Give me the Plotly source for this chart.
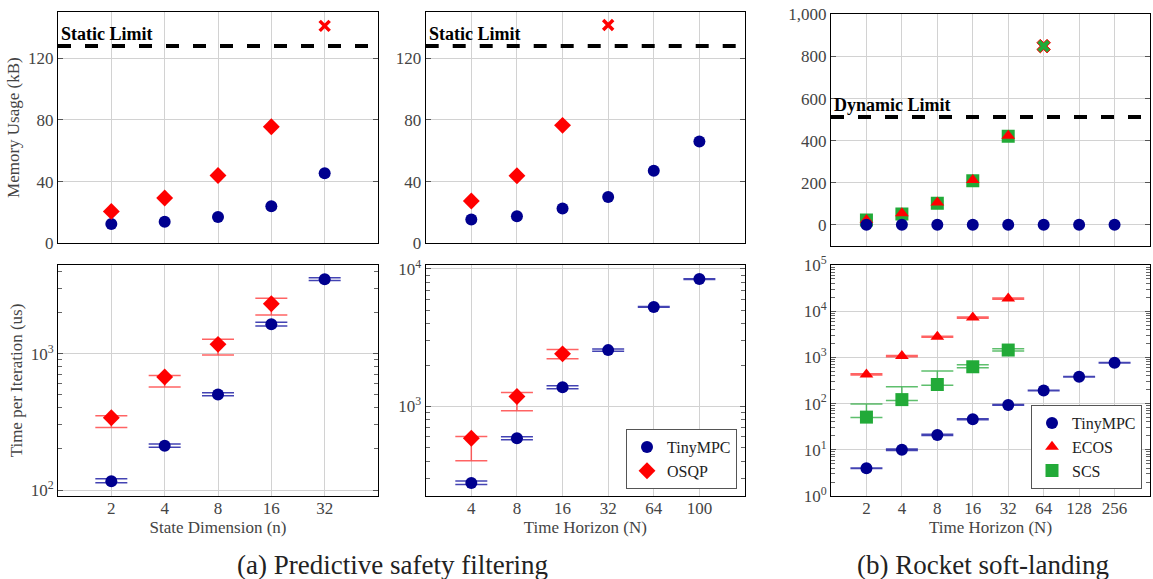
import plotly.graph_objects as go
from plotly.subplots import make_subplots

# ---------------- data ----------------
psf_n_labels = ["2", "4", "8", "16", "32"]
psf_n_tiny_mem = [12.5, 14.0, 17.0, 24.0, 45.5]
psf_n_osqp_mem = [20.7, 29.4, 44.0, 75.6]
psf_n_osqp_fail_label = "32"
psf_n_osqp_fail_mem = 141

psf_N_labels = ["4", "8", "16", "32", "64", "100"]
psf_N_tiny_mem = [15.5, 17.5, 22.5, 30.0, 47.0, 66.0]
psf_N_osqp_mem = [27.4, 43.8, 76.5]
psf_N_osqp_fail_label = "32"
psf_N_osqp_fail_mem = 141.5

rocket_labels = ["2", "4", "8", "16", "32", "64", "128", "256"]
rocket_tiny_mem = [1, 1, 1, 1, 1, 1, 1, 1]
rocket_ecos_mem = [24, 56, 106, 213, 424]
rocket_scs_mem = [24, 52, 103, 210, 421]
rocket_fail_label = "64"
rocket_fail_mem = 849

static_limit = 128
dynamic_limit = 512

psf_n_tiny_t = [116, 211, 503, 1643, 3516]
psf_n_tiny_t_hi = [121, 218, 518, 1700, 3610]
psf_n_tiny_t_lo = [113, 206, 492, 1600, 3440]
psf_n_osqp_t = [339, 674, 1172, 2327]
psf_n_osqp_t_hi = [351, 693, 1275, 2548]
psf_n_osqp_t_lo = [288, 571, 978, 1923]

psf_N_tiny_t = [278, 587, 1378, 2570, 5297, 8450]
psf_N_tiny_t_hi = [287, 603, 1415, 2620, 5330, 8500]
psf_N_tiny_t_lo = [271, 574, 1345, 2520, 5270, 8400]
psf_N_osqp_t = [587, 1183, 2415]
psf_N_osqp_t_hi = [604, 1266, 2600]
psf_N_osqp_t_lo = [403, 931, 2222]

rocket_tiny_t = [4.0, 10.0, 20.9, 45.6, 93.6, 192, 380, 766]
rocket_tiny_t_hi = [4.05, 10.4, 21.6, 46.8, 95.5, 194, 384, 772]
rocket_tiny_t_lo = [3.95, 9.6, 20.3, 44.5, 91.8, 190, 376, 760]
rocket_ecos_t = [427, 1067, 2800, 7270, 18800]
rocket_ecos_t_hi = [440, 1100, 2880, 7480, 19400]
rocket_ecos_t_lo = [415, 1035, 2720, 7060, 18200]
rocket_scs_t = [51, 122, 259, 627, 1443]
rocket_scs_t_hi = [98, 231, 505, 694, 1545]
rocket_scs_t_lo = [50, 116, 250, 597, 1371]

captions = ["(a) Predictive safety filtering", "(b) Rocket soft-landing"]

# ---------------- style ----------------
BLUE = "#00008F"
RED = "#FF0000"
GREEN = "#22AA38"
BLUE_E = "rgba(20,20,160,0.8)"
RED_E = "rgba(255,60,60,0.8)"
GREEN_E = "rgba(40,170,60,0.75)"
FONT = "'Liberation Serif', 'DejaVu Serif', serif"
GRID = "#d2d2d2"
TICKC = "#444444"
S_CIRC, S_DIAM, S_TRI, S_SQ = 12, 13, 12, 13

fig = make_subplots(rows=2, cols=3)


def pos(labels, sel):
    return [labels.index(s) + 1 for s in sel]


def errs(v, hi, lo):
    return [h - x for x, h in zip(v, hi)], [x - l for x, l in zip(v, lo)]


def add_pt(row, col, x, y, color, symbol, size, name, legend=None, show=False,
           err=None, ecolor=None, line=None):
    kw = {}
    if err is not None:
        kw["error_y"] = dict(type="data", symmetric=False, array=err[0], arrayminus=err[1],
                             color=ecolor, thickness=1.5, width=16)
    m = dict(color=color, symbol=symbol, size=size, line=line or dict(width=0))
    tr = go.Scatter(x=x, y=y, mode="markers", marker=m, name=name, showlegend=show, **kw)
    if legend:
        tr.legend = legend
    fig.add_trace(tr, row=row, col=col)


# ---- top-left: memory vs state dimension
xl = list(range(1, len(psf_n_labels) + 1))
add_pt(1, 1, xl[:len(psf_n_tiny_mem)], psf_n_tiny_mem, BLUE, "circle", S_CIRC, "TinyMPC")
add_pt(1, 1, xl[:len(psf_n_osqp_mem)], psf_n_osqp_mem, RED, "diamond", S_DIAM, "OSQP")
add_pt(1, 1, pos(psf_n_labels, [psf_n_osqp_fail_label]), [psf_n_osqp_fail_mem], RED, "x-thin", 10,
       "OSQP fail", line=dict(color=RED, width=3.5))
fig.add_trace(go.Scatter(x=[0, len(psf_n_labels) + 1], y=[static_limit] * 2, mode="lines",
                         line=dict(color="black", width=4, dash="13px,14px"), showlegend=False),
              row=1, col=1)

# ---- top-middle: memory vs horizon
xm = list(range(1, len(psf_N_labels) + 1))
add_pt(1, 2, xm[:len(psf_N_tiny_mem)], psf_N_tiny_mem, BLUE, "circle", S_CIRC, "TinyMPC")
add_pt(1, 2, xm[:len(psf_N_osqp_mem)], psf_N_osqp_mem, RED, "diamond", S_DIAM, "OSQP")
add_pt(1, 2, pos(psf_N_labels, [psf_N_osqp_fail_label]), [psf_N_osqp_fail_mem], RED, "x-thin", 10,
       "OSQP fail", line=dict(color=RED, width=3.5))
fig.add_trace(go.Scatter(x=[0, len(psf_N_labels) + 1], y=[static_limit] * 2, mode="lines",
                         line=dict(color="black", width=4, dash="13px,14px"), showlegend=False),
              row=1, col=2)

# ---- top-right: rocket memory
xr = list(range(1, len(rocket_labels) + 1))
fig.add_trace(go.Scatter(x=[0, len(rocket_labels) + 1], y=[dynamic_limit] * 2, mode="lines",
                         line=dict(color="black", width=4, dash="13px,14px"), showlegend=False),
              row=1, col=3)
add_pt(1, 3, xr[:len(rocket_scs_mem)], rocket_scs_mem, GREEN, "square", S_SQ, "SCS")
add_pt(1, 3, xr[:len(rocket_ecos_mem)], rocket_ecos_mem, RED, "triangle-up", S_TRI, "ECOS")
add_pt(1, 3, xr[:len(rocket_tiny_mem)], rocket_tiny_mem, BLUE, "circle", S_CIRC, "TinyMPC")
add_pt(1, 3, pos(rocket_labels, [rocket_fail_label]), [rocket_fail_mem], GREEN, "x", 12,
       "fail", line=dict(color=RED, width=1))

# ---- bottom-left: time vs state dimension
add_pt(2, 1, xl[:len(psf_n_tiny_t)], psf_n_tiny_t, BLUE, "circle", S_CIRC, "TinyMPC",
       err=errs(psf_n_tiny_t, psf_n_tiny_t_hi, psf_n_tiny_t_lo), ecolor=BLUE_E)
add_pt(2, 1, xl[:len(psf_n_osqp_t)], psf_n_osqp_t, RED, "diamond", S_DIAM, "OSQP",
       err=errs(psf_n_osqp_t, psf_n_osqp_t_hi, psf_n_osqp_t_lo), ecolor=RED_E)

# ---- bottom-middle: time vs horizon (legend)
add_pt(2, 2, xm[:len(psf_N_tiny_t)], psf_N_tiny_t, BLUE, "circle", S_CIRC, "TinyMPC", legend="legend",
       show=True, err=errs(psf_N_tiny_t, psf_N_tiny_t_hi, psf_N_tiny_t_lo), ecolor=BLUE_E)
add_pt(2, 2, xm[:len(psf_N_osqp_t)], psf_N_osqp_t, RED, "diamond", S_DIAM, "OSQP", legend="legend",
       show=True, err=errs(psf_N_osqp_t, psf_N_osqp_t_hi, psf_N_osqp_t_lo), ecolor=RED_E)

# ---- bottom-right: rocket time (legend2)
add_pt(2, 3, xr[:len(rocket_tiny_t)], rocket_tiny_t, BLUE, "circle", S_CIRC, "TinyMPC", legend="legend2",
       show=True, err=errs(rocket_tiny_t, rocket_tiny_t_hi, rocket_tiny_t_lo), ecolor=BLUE_E)
add_pt(2, 3, xr[:len(rocket_ecos_t)], rocket_ecos_t, RED, "triangle-up", S_TRI, "ECOS", legend="legend2",
       show=True, err=errs(rocket_ecos_t, rocket_ecos_t_hi, rocket_ecos_t_lo), ecolor=RED_E)
add_pt(2, 3, xr[:len(rocket_scs_t)], rocket_scs_t, GREEN, "square", S_SQ, "SCS", legend="legend2",
       show=True, err=errs(rocket_scs_t, rocket_scs_t_hi, rocket_scs_t_lo), ecolor=GREEN_E)

# ---------------- axes ----------------
W, H = 1153, 579
xdom = [[58 / W, 378 / W], [425.7 / W, 745 / W], [831 / W, 1150 / W]]
ydom_top = [[1 - 243.3 / H, 1 - 12 / H], [1 - 243.3 / H, 1 - 12 / H], [1 - 246 / H, 1 - 14.3 / H]]
ydom_bot = [1 - 496 / H, 1 - 265 / H]

axis_common = dict(showline=True, linecolor="black", linewidth=1, mirror="allticks",
                   showgrid=True, gridcolor=GRID, gridwidth=1, zeroline=False,
                   tickfont=dict(family=FONT, size=17, color=TICKC), automargin=False,
                   ticks="inside", tickcolor="#555555", ticklen=5)

labels_per_col = [psf_n_labels, psf_N_labels, rocket_labels]
xtitles = ["State Dimension (n)", "Time Horizon (N)", "Time Horizon (N)"]
for c in range(3):
    labs = labels_per_col[c]
    tv = list(range(1, len(labs) + 1))
    fig.update_xaxes(row=1, col=c + 1, domain=xdom[c], range=[0, len(labs) + 1], tickvals=tv,
                     ticktext=labs, showticklabels=False, **{**axis_common, "ticklen": 0})
    fig.update_xaxes(row=2, col=c + 1, domain=xdom[c], range=[0, len(labs) + 1], tickvals=tv,
                     ticktext=labs, showticklabels=True, ticklabelstandoff=-3,
                     title=dict(text=xtitles[c], font=dict(family=FONT, size=17, color=TICKC), standoff=0),
                     **{**axis_common, "ticklen": 0})

# top y axes
fig.update_yaxes(row=1, col=1, domain=ydom_top[0], range=[0, 150], tickvals=[0, 40, 80, 120],
                 title=dict(text="Memory Usage (kB)", font=dict(family=FONT, size=17, color=TICKC), standoff=4),
                 **axis_common)
fig.update_yaxes(row=1, col=2, domain=ydom_top[1], range=[0, 150], tickvals=[0, 40, 80, 120], **axis_common)
fig.update_yaxes(row=1, col=3, domain=ydom_top[2], range=[-100, 1000],
                 tickvals=[0, 200, 400, 600, 800, 1000], tickformat=",", **axis_common)


def minor_vals(lo, hi):
    return [m * 10 ** d for d in range(lo, hi) for m in range(2, 10)]


def pow_ticks(lo, hi):
    return [10 ** d for d in range(lo, hi + 1)], [f"10<sup>{d}</sup>" for d in range(lo, hi + 1)]


tv, tt = pow_ticks(2, 3)
fig.update_yaxes(row=2, col=1, domain=ydom_bot, type="log", range=[1.956, 3.651], tickvals=tv, ticktext=tt,
                 minor=dict(tickvals=minor_vals(1, 4), ticks="inside", ticklen=4, tickcolor="#666", showgrid=False),
                 title=dict(text="Time per Iteration (us)", font=dict(family=FONT, size=17, color=TICKC), standoff=3),
                 **axis_common)
tv, tt = pow_ticks(3, 4)
fig.update_yaxes(row=2, col=2, domain=ydom_bot, type="log", range=[2.349, 4.029], tickvals=tv, ticktext=tt,
                 minor=dict(tickvals=minor_vals(2, 5), ticks="inside", ticklen=4, tickcolor="#666", showgrid=False),
                 **axis_common)
tv, tt = pow_ticks(0, 5)
fig.update_yaxes(row=2, col=3, domain=ydom_bot, type="log", range=[0, 5], tickvals=tv, ticktext=tt,
                 minor=dict(tickvals=minor_vals(0, 5), ticks="inside", ticklen=4, tickcolor="#666", showgrid=False),
                 **axis_common)

# ---------------- annotations ----------------
ann_font = dict(family=FONT, size=18, color="black")
fig.add_annotation(xref="x", yref="y", x=0, y=static_limit, xanchor="left", yanchor="bottom",
                   text="<b>Static Limit</b>", showarrow=False, font=ann_font, xshift=1, yshift=0)
fig.add_annotation(xref="x2", yref="y2", x=0, y=static_limit, xanchor="left", yanchor="bottom",
                   text="<b>Static Limit</b>", showarrow=False, font=ann_font, xshift=1, yshift=0)
fig.add_annotation(xref="x3", yref="y3", x=0, y=dynamic_limit, xanchor="left", yanchor="bottom",
                   text="<b>Dynamic Limit</b>", showarrow=False, font=ann_font, xshift=1, yshift=0)
cap_font = dict(family=FONT, size=27, color="#222222")
fig.add_annotation(xref="paper", yref="paper", x=392 / W, y=1 - 565 / H, text=captions[0],
                   showarrow=False, font=cap_font, xanchor="center", yanchor="middle")
fig.add_annotation(xref="paper", yref="paper", x=983 / W, y=1 - 565 / H, text=captions[1],
                   showarrow=False, font=cap_font, xanchor="center", yanchor="middle")

legend_style = dict(font=dict(family=FONT, size=16, color="#222222"), bgcolor="white",
                    bordercolor="#555555", borderwidth=1, tracegroupgap=0, itemwidth=30,
                    xanchor="right", yanchor="bottom")
fig.update_layout(
    width=W, height=H, margin=dict(l=0, r=0, t=0, b=0),
    paper_bgcolor="white", plot_bgcolor="white",
    legend=dict(x=737 / W, y=1 - 489 / H, **legend_style),
    legend2=dict(x=1142 / W, y=1 - 489 / H, **legend_style),
    font=dict(family=FONT),
)

fig.write_html("out.html", config={"displayModeBar": False},
               post_script="document.body.style.margin='0';document.body.style.overflow='hidden';")
